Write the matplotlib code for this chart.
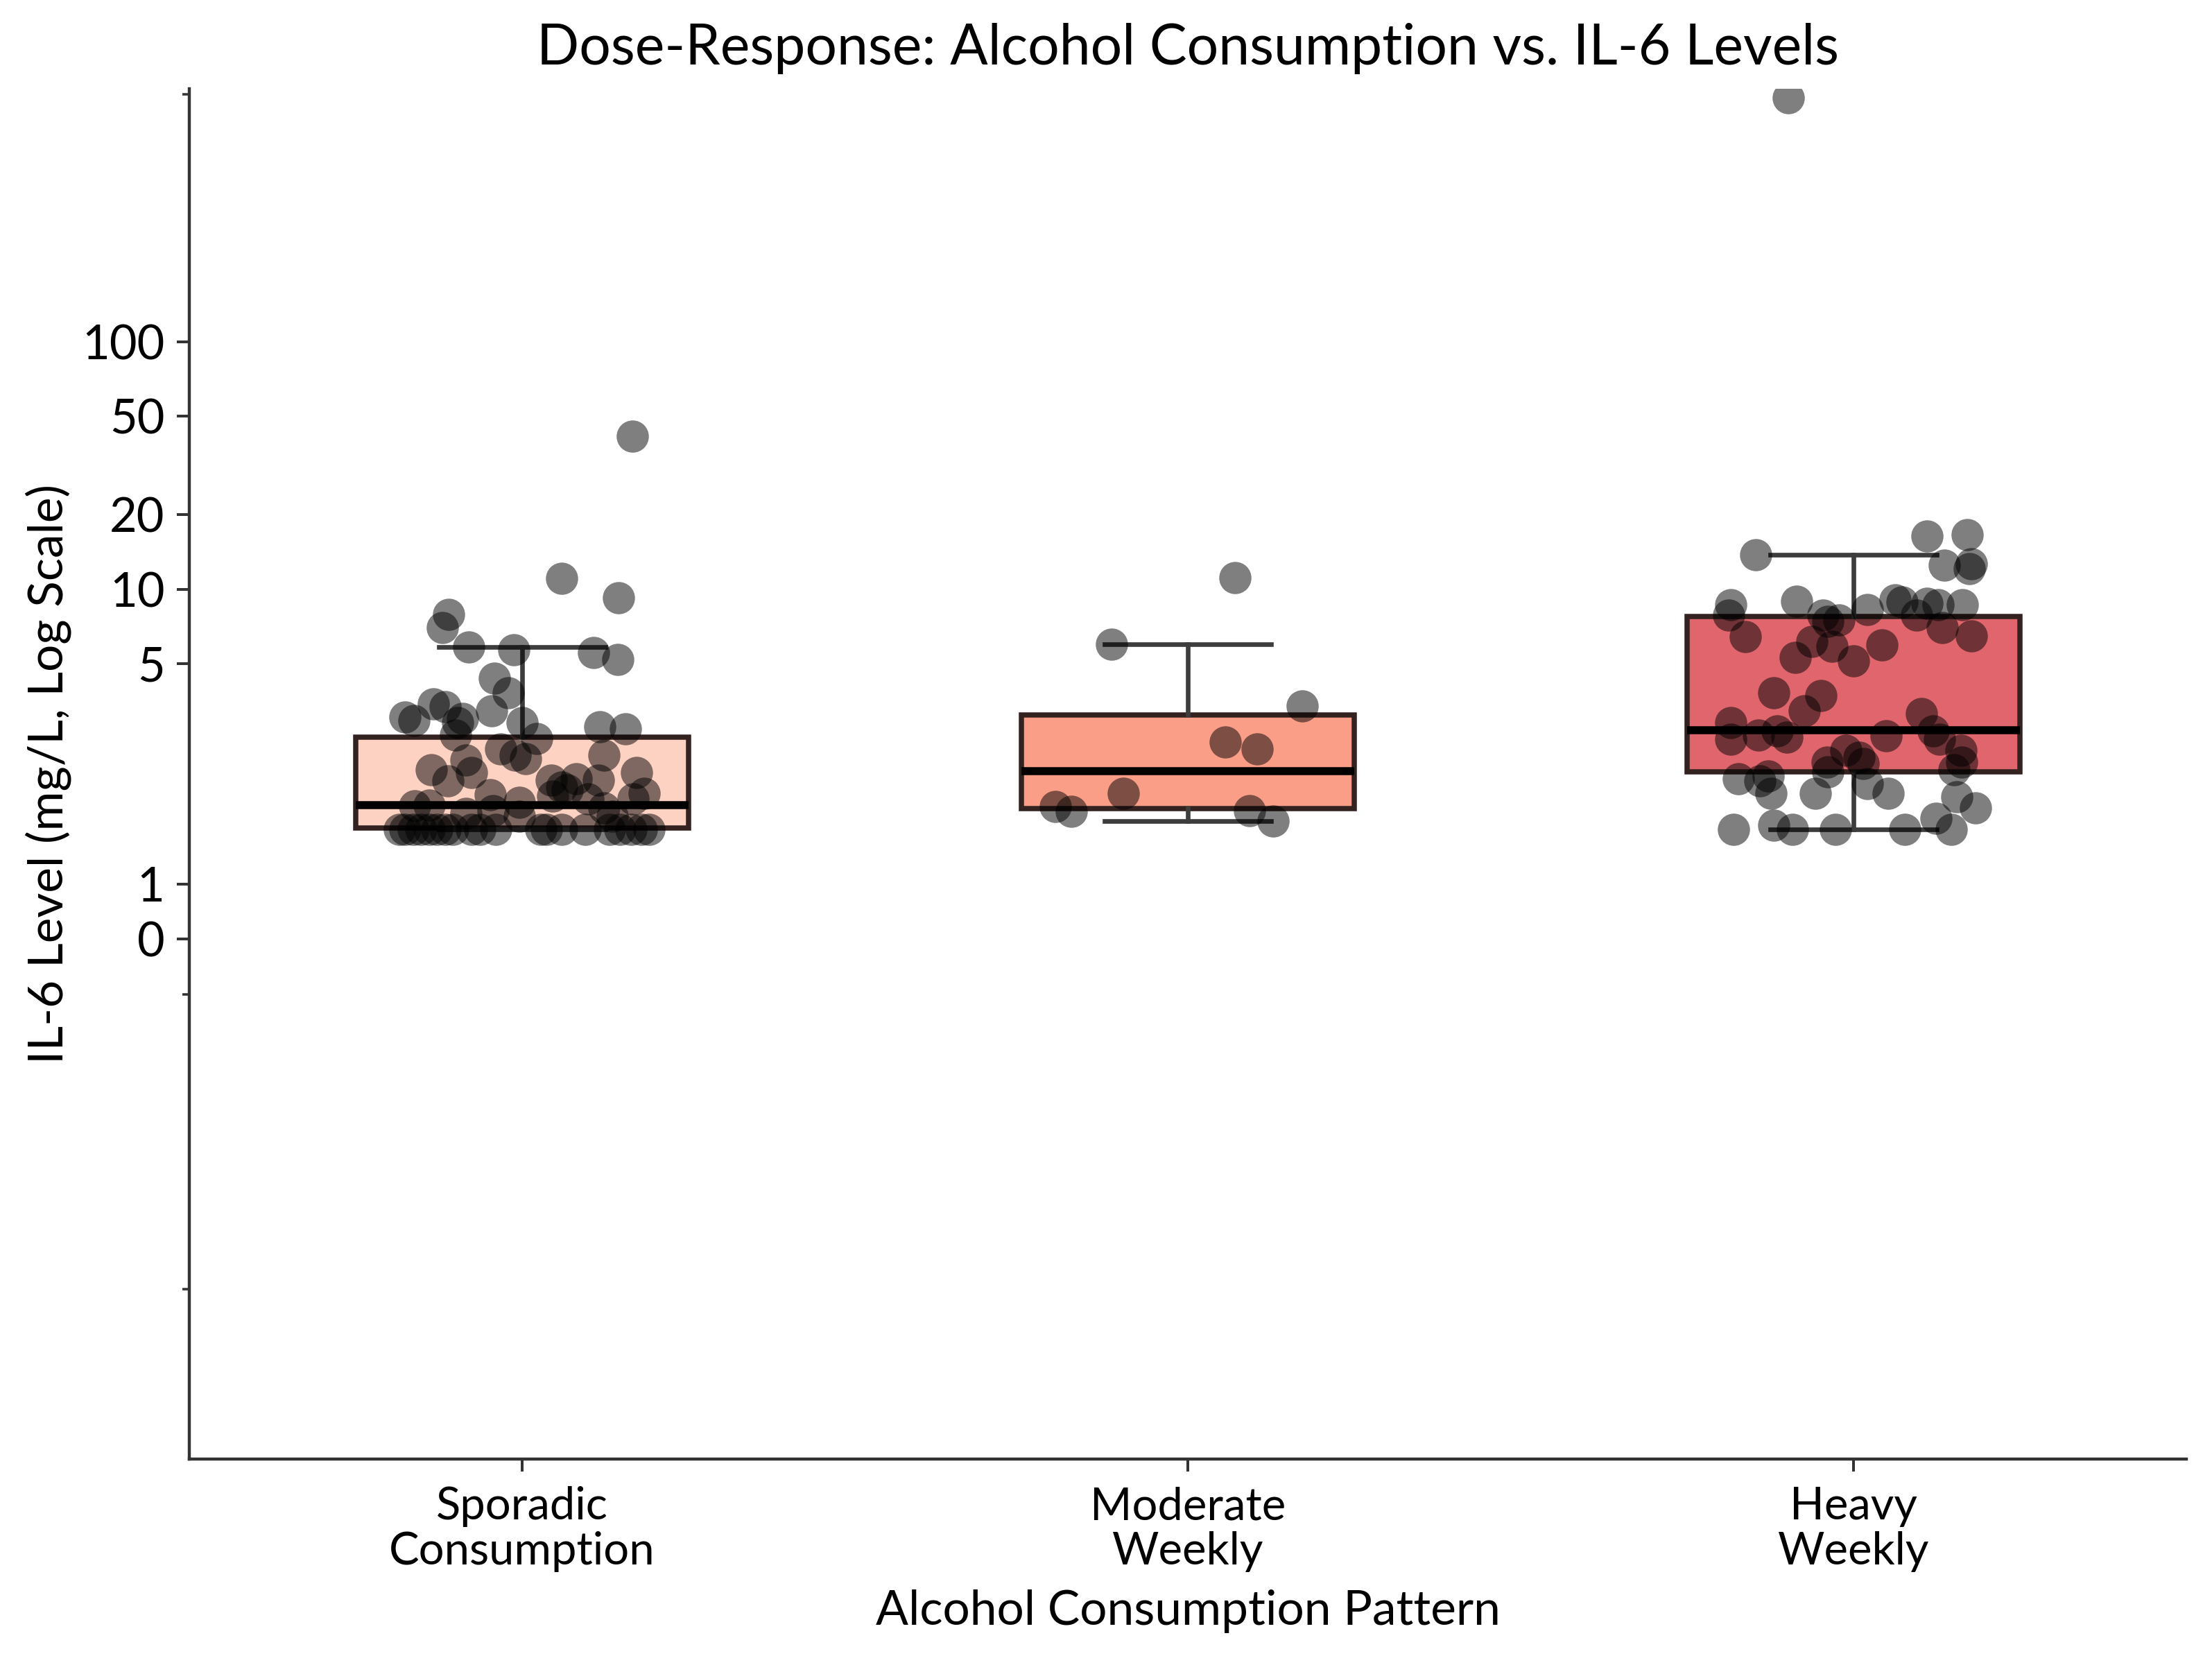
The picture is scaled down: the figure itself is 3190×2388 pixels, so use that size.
import matplotlib
matplotlib.use("Agg")
import matplotlib.pyplot as plt
from matplotlib.ticker import FixedLocator, NullFormatter
import numpy as np

plt.rcParams['font.family'] = ['Lato', 'DejaVu Sans']

# ---------------- data ----------------
categories = ["Sporadic\nConsumption", "Moderate\nWeekly", "Heavy\nWeekly"]
box_colors = ["#FDD2C3", "#FB9E88", "#E0656D"]

# box statistics
q1 = [2.02, 2.37, 3.04]
med = [2.43, 3.05, 3.79]
q3 = [3.67, 4.07, 7.78]
whislo = [2.0, 2.15, 2.0]
whishi = [5.85, 6.01, 13.8]

# individual observations (value) and their horizontal jitter (category units)
sporadic_vals = [41.6, 11.07, 9.23, 7.94, 7.03, 5.85, 5.69, 5.57, 5.22, 4.74,
                 4.48, 4.27, 4.22, 4.15, 4.04, 3.97, 4.01, 3.93, 3.86, 3.82,
                 3.93, 3.71, 3.65, 3.45, 3.34, 3.26, 3.34, 3.28, 3.08, 3.03,
                 2.87, 2.89, 2.92, 2.76, 2.71, 2.89, 3.03, 2.65, 2.55, 2.63,
                 2.55, 2.60, 2.49, 2.42, 2.44, 2.39, 2.34, 2.23, 2.28, 2.23,
                 2.0, 2.0, 2.0, 2.0, 2.0, 2.0, 2.0, 2.0, 2.0, 2.0,
                 2.0, 2.0, 2.0, 2.0, 2.0, 2.0, 2.0, 2.0, 2.0, 2.0]
sporadic_jit = [0.166, 0.059, 0.145, -0.110, -0.120, -0.080, -0.013, 0.107, 0.144, -0.042,
                -0.021, -0.133, -0.116, -0.046, -0.176, -0.163, -0.090, -0.097, 0.117, 0.155,
                0.000, -0.100, 0.022, -0.032, 0.123, -0.084, -0.010, 0.005, -0.136, -0.076,
                -0.112, 0.044, 0.081, 0.059, 0.068, 0.115, 0.172, 0.183, 0.167, -0.048,
                0.099, 0.046, -0.004, -0.162, -0.140, 0.123, -0.044, -0.004, -0.084, 0.135,
                -0.184, -0.176, -0.164, -0.152, -0.140, -0.128, -0.116, -0.104, -0.076, -0.064,
                -0.040, 0.028, 0.036, 0.059, 0.095, 0.131, 0.147, 0.163, 0.179, 0.191]

moderate_vals = [11.17, 6.0, 4.24, 3.58, 3.46, 2.65, 2.41, 2.32, 2.33, 2.15]
moderate_jit = [0.071, -0.115, 0.172, 0.056, 0.104, -0.097, -0.199, -0.175, 0.093, 0.128]

heavy_vals = [965.0, 16.6, 16.4, 13.8, 12.5, 12.7, 12.1, 8.69, 8.98, 8.31,
              9.08, 8.89, 8.79, 8.69, 8.69, 7.86, 7.86, 7.86, 7.52, 7.43,
              7.03, 6.44, 6.48, 6.16, 5.89, 5.98, 5.30, 5.15, 4.47, 4.43,
              4.15, 4.10, 3.93, 3.63, 3.71, 3.78, 3.67, 3.69, 3.78, 3.63,
              3.43, 3.30, 3.22, 3.04, 3.19, 3.43, 3.22, 3.08, 2.91, 2.87,
              2.96, 2.65, 2.65, 2.83, 2.65, 2.59, 2.39, 2.0, 2.07, 2.0,
              2.0, 2.0, 2.20, 2.0]
heavy_jit = [-0.098, 0.171, 0.110, -0.147, 0.136, 0.177, 0.174, -0.184, -0.085, 0.021,
             0.062, 0.073, 0.110, 0.127, 0.164, -0.187, 0.095, -0.046, -0.022, -0.039,
             0.133, -0.163, 0.177, -0.063, -0.032, 0.043, -0.088, 0.000, -0.120, -0.049,
             -0.074, 0.102, -0.184, -0.184, -0.143, -0.115, -0.100, 0.049, 0.120, 0.129,
             -0.011, 0.008, -0.040, -0.039, 0.015, 0.161, 0.162, 0.151, -0.173, -0.141,
             -0.128, -0.124, -0.057, 0.021, 0.052, 0.155, 0.183, -0.180, -0.120, -0.092,
             -0.027, 0.077, 0.124, 0.147]

ytick_vals = [0, 1, 5, 10, 20, 50, 100]
ytick_labels = ["0", "1", "5", "10", "20", "50", "100"]
yminor_vals = [-10, -1, 1000]

# ---------------- figure ----------------
fig = plt.figure(figsize=(10, 7.486), dpi=319)
ax = fig.add_axes([0.0856, 0.1191, 0.9028, 0.8273])

positions = list(range(len(categories)))
stats = []
for i in range(len(categories)):
    stats.append(dict(q1=q1[i], med=med[i], q3=q3[i], whislo=whislo[i],
                      whishi=whishi[i], fliers=[]))

bp = ax.bxp(stats, positions=positions, widths=0.5, patch_artist=True,
            showfliers=False,
            boxprops=dict(linewidth=1.7, edgecolor="#33221f"),
            whiskerprops=dict(linewidth=1.5, color="#3d3d3d"),
            capprops=dict(linewidth=1.5, color="#3d3d3d"),
            medianprops=dict(linewidth=2.6, color="black"))
for patch, c in zip(bp["boxes"], box_colors):
    patch.set_facecolor(c)
for ln in bp["medians"]:
    ln.set_zorder(4)

groups = [(sporadic_vals, sporadic_jit), (moderate_vals, moderate_jit), (heavy_vals, heavy_jit)]
for i, (vals, jit) in enumerate(groups):
    xs = np.array(jit) + positions[i]
    ax.scatter(xs, vals, s=110, color="black", alpha=0.5, linewidths=0, zorder=3)

ax.set_yscale("symlog", linthresh=5)
ax.set_ylim(-48.5, 1050)
ax.set_xlim(-0.5, 2.5)
ax.set_yticks(ytick_vals)
ax.set_yticklabels(ytick_labels)
ax.yaxis.set_minor_locator(FixedLocator(yminor_vals))
ax.yaxis.set_minor_formatter(NullFormatter())
ax.set_xticks(positions)
ax.set_xticklabels(categories, linespacing=1.12)

for side in ["top", "right"]:
    ax.spines[side].set_visible(False)
for side in ["left", "bottom"]:
    ax.spines[side].set_color("#333333")
    ax.spines[side].set_linewidth(1.0)

ax.tick_params(axis="x", which="major", labelsize=14.7, length=4, width=0.9,
               color="#333333", pad=5)
ax.tick_params(axis="y", which="major", labelsize=15.5, length=4, width=0.9,
               color="#333333", pad=4)
ax.tick_params(axis="y", which="minor", length=2.2, width=0.8, color="#333333")

ax.set_title("Dose-Response: Alcohol Consumption vs. IL-6 Levels", fontsize=18.2, pad=8)
ax.set_xlabel("Alcohol Consumption Pattern", fontsize=15.7, labelpad=5.5)
ax.set_ylabel("IL-6 Level (mg/L, Log Scale)", fontsize=15.7, labelpad=3.5)

fig.savefig("out.png", dpi=319)
